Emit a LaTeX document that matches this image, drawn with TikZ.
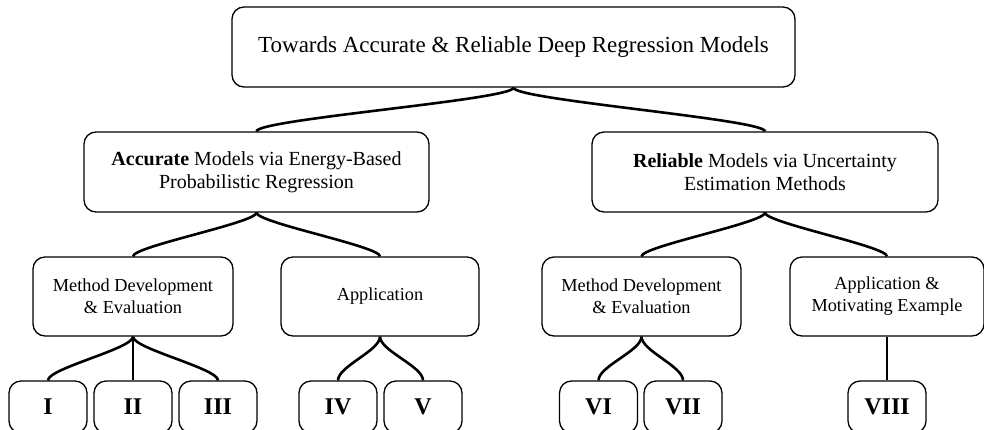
\documentclass[tikz,border=0pt]{standalone}
\usepackage{fontspec}
\setmainfont{Liberation Serif}
\begin{document}
\begin{tikzpicture}[x=1pt,y=-1pt,
  box/.style={draw, rounded corners=12pt, line width=1.3pt, inner sep=0pt, align=center},
  toptext/.style={font=\fontsize{23}{27}\selectfont},
  midtext/.style={font=\fontsize{20}{23}\selectfont},
  subtext/.style={font=\fontsize{18.3}{22}\selectfont},
  paper/.style={box, minimum width=78pt, minimum height=52pt, font=\fontsize{24}{28}\selectfont\bfseries},
  conn/.style={line width=2.6pt}]
\useasboundingbox (0,0) rectangle (984,429);

% root
\node[box, toptext, minimum width=563pt, minimum height=80pt] (root) at (513.5,47)
  {Towards Accurate \& Reliable Deep Regression Models};

% two main branches
\node[box, midtext, minimum width=345pt, minimum height=80pt] (acc) at (256.5,172)
  {\textbf{Accurate} Models via Energy-Based\\Probabilistic Regression};
\node[box, midtext, minimum width=346pt, minimum height=80pt] (rel) at (765,172)
  {\textbf{Reliable} Models via Uncertainty\\Estimation Methods};

% sub-branches
\node[box, subtext, minimum width=200pt, minimum height=79pt] (mde1) at (133,296.5)
  {Method Development\\\& Evaluation};
\node[box, subtext, minimum width=198pt, minimum height=79pt] (app1) at (380,296.5)
  {Application};
\node[box, subtext, minimum width=199pt, minimum height=79pt] (mde2) at (641.5,296.5)
  {Method Development\\\& Evaluation};
\node[box, subtext, minimum width=194pt, minimum height=79pt] (app2) at (887,296.5)
  {Application \&\\Motivating Example};

% papers
\node[paper] (p1) at (48,407) {I};
\node[paper] (p2) at (133,407) {II};
\node[paper] (p3) at (218,407) {III};
\node[paper] (p4) at (338,407) {IV};
\node[paper] (p5) at (423,407) {V};
\node[paper] (p6) at (598.5,407) {VI};
\node[paper] (p7) at (683,407) {VII};
\node[paper] (p8) at (887,407) {VIII};

% tree connectors
\foreach \a/\b/\d in {root/acc/12, root/rel/12,
                      acc/mde1/10, acc/app1/10, rel/mde2/10, rel/app2/10,
                      mde1/p1/12, mde1/p2/12, mde1/p3/12,
                      app1/p4/14, app1/p5/14,
                      mde2/p6/14, mde2/p7/14,
                      app2/p8/14}
  \draw[conn] (\a.south) .. controls +(0,\d) and +(0,-\d) .. (\b.north);
\end{tikzpicture}
\end{document}
